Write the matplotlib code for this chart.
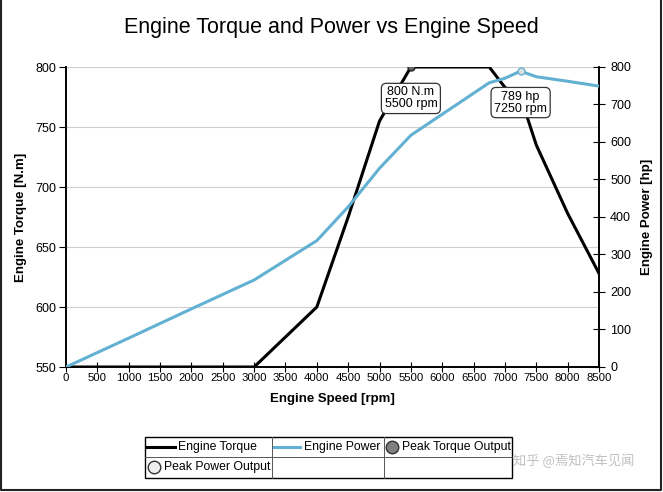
import matplotlib.pyplot as plt
from matplotlib.patches import Rectangle

plt.rcParams['font.family'] = ['Liberation Sans', 'DejaVu Sans']

rpm = [0, 1000, 2000, 3000, 4000, 4500, 5000, 5500, 6000, 6500, 6750, 7000, 7250, 7500, 8000, 8500]
torque = [550, 550, 550, 550, 600, 675, 755, 800, 800, 800, 800, 783, 775, 735, 678, 628]
power = [0, 77, 155, 232, 337, 427, 530, 618, 674, 730, 758, 770, 789, 774, 762, 749]
peak_torque = (5500, 800)
peak_power = (7250, 789)
xticks = list(range(0, 8501, 500))

c_torque = 'black'
c_power = '#62b1d2'

fig = plt.figure(figsize=(6.63, 4.92), dpi=100)
ax = fig.add_axes([66/663, 1-367/492, 533/663, 300/492])
ax2 = ax.twinx()

ax.plot(rpm, torque, color=c_torque, lw=2.2, zorder=3)
ax2.plot(rpm, power, color=c_power, lw=2.2, zorder=3)
ax.plot(*peak_torque, 'o', ms=5, mfc='#666666', mec='#222222', zorder=5)
ax2.plot(*peak_power, 'o', ms=5, mfc='#dddddd', mec=c_power, zorder=5)

box = dict(boxstyle='round,pad=0.25,rounding_size=0.4', fc='white', ec='#333333', lw=0.9)
ax.annotate('%d N.m\n%d rpm' % (peak_torque[1], peak_torque[0]), peak_torque,
            xytext=(0, -14), textcoords='offset points', ha='center', va='top',
            fontsize=9, linespacing=1.0, bbox=box, zorder=6)
ax2.annotate('%d hp\n%d rpm' % (peak_power[1], peak_power[0]), peak_power,
             xytext=(0, -14), textcoords='offset points', ha='center', va='top',
             fontsize=9, linespacing=1.0, bbox=box, zorder=6)

ax.set_xlim(0, 8500)
ax.set_ylim(550, 800)
ax2.set_ylim(0, 800)
ax.set_xticks(xticks)
ax.set_yticks(range(550, 801, 50))
ax2.set_yticks(range(0, 801, 100))
ax.grid(axis='y', color='#d0d0d0', lw=0.8)
ax.set_axisbelow(True)

for a in (ax, ax2):
    a.spines['top'].set_visible(False)
    for s in a.spines.values():
        s.set_linewidth(1.2)
ax.tick_params(axis='x', direction='inout', length=7, labelsize=8.2, pad=1)
ax.tick_params(axis='y', direction='out', length=5, labelsize=9, pad=2)
ax2.tick_params(axis='y', direction='inout', length=8, labelsize=9, pad=4)

ax.set_xlabel('Engine Speed [rpm]', fontsize=9.5, fontweight='bold', labelpad=7)
ax.set_ylabel('Engine Torque [N.m]', fontsize=9.5, fontweight='bold', labelpad=6)
ax2.set_ylabel('Engine Power [hp]', fontsize=9.5, fontweight='bold', labelpad=7)
fig.text(0.5, 1-27/492, 'Engine Torque and Power vs Engine Speed', ha='center', va='center', fontsize=15.5)

# legend drawn as a table
lg = fig.add_axes([0, 0, 1, 1])
lg.set_xlim(0, 663)
lg.set_ylim(492, 0)
lg.axis('off')
lg.add_patch(Rectangle((145, 437), 367, 41, fill=False, ec='black', lw=1))
for xx in (272, 384):
    lg.plot([xx, xx], [437, 478], color='#555555', lw=0.7)
lg.plot([145, 512], [457, 457], color='#555555', lw=0.7)
lg.plot([147, 175], [447, 447], color=c_torque, lw=2.2)
lg.text(178, 447, 'Engine Torque', va='center', fontsize=8.8)
lg.plot([274, 300], [447, 447], color=c_power, lw=2.2)
lg.text(304, 447, 'Engine Power', va='center', fontsize=8.8)
lg.plot(392, 447, 'o', ms=9, mfc='#808080', mec='#333333')
lg.text(402, 447, 'Peak Torque Output', va='center', fontsize=8.8)
lg.plot(154, 467, 'o', ms=9, mfc='#eeeeee', mec='#333333')
lg.text(164, 467, 'Peak Power Output', va='center', fontsize=8.8)
lg.text(513, 461, '知乎 @焉知汽车见闻', va='center', fontsize=9.5, color='#c0c0c0',
        family=['Noto Sans CJK SC', 'DejaVu Sans'])

# image border (left, bottom, right)
lg.plot([1, 1, 661, 661], [0, 490, 490, 0], color='#222222', lw=1.5)

fig.savefig('out.png', dpi=100)
